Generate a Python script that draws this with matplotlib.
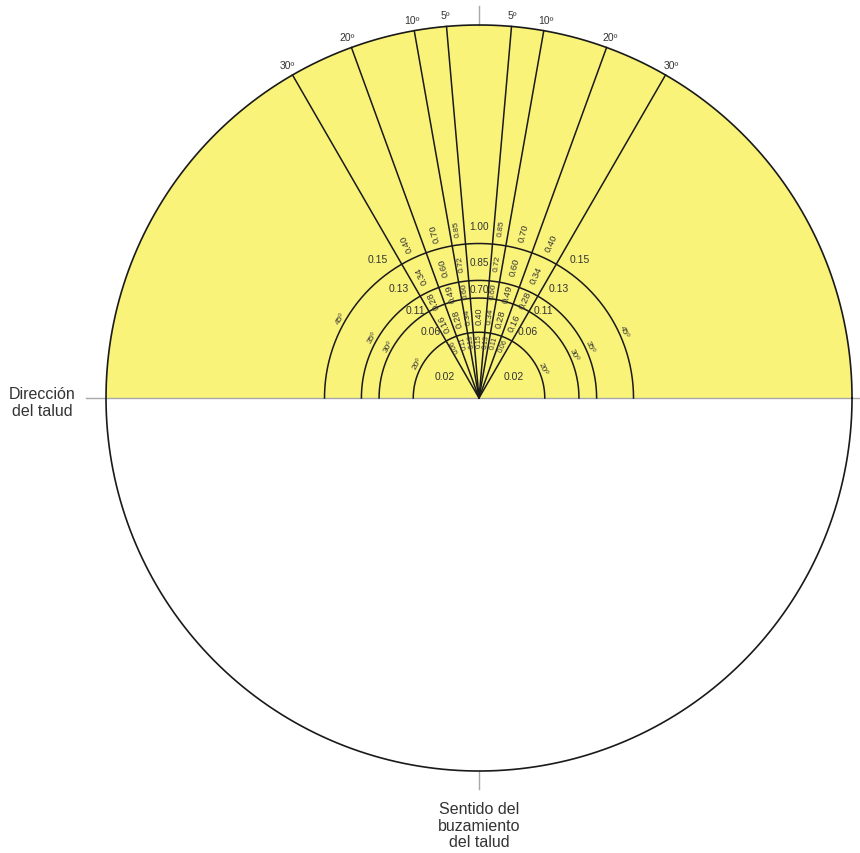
import numpy as np
import matplotlib.pyplot as plt

plt.rcParams['font.family'] = ['Liberation Sans', 'DejaVu Sans']

# sector boundaries, degrees either side of the dip direction
sector_edges = [5, 10, 20, 30]
# dip angles of the small circles (stereographic projection)
ring_dips = [20, 30, 35, 45]
ring_labels = ["20º", "30º", "35º", "45º"]

# factor per cell: rows inner -> outer (<20, 20-30, 30-35, 35-45, >45),
# columns centre -> side (0-5, 5-10, 10-20, 20-30, >30)
factor_lt20 = [0.15, 0.13, 0.11, 0.06, 0.02]
factor_20_30 = [0.40, 0.34, 0.28, 0.16, 0.06]
factor_30_35 = [0.70, 0.60, 0.49, 0.28, 0.11]
factor_35_45 = [0.85, 0.72, 0.60, 0.34, 0.13]
factor_gt45 = [1.00, 0.85, 0.70, 0.40, 0.15]
factors = [factor_lt20, factor_20_30, factor_30_35, factor_35_45, factor_gt45]

YELLOW = '#faf37a'
INK = '#1a1a1a'
TXT = '#333333'
GREY = '#a8a8a8'


def pol(a, r):
    # a: degrees from the vertical (positive to the right)
    t = np.radians(a)
    return r * np.sin(t), r * np.cos(t)


fig = plt.figure(figsize=(8.6, 8.54), dpi=100)
ax = fig.add_axes([0, 0, 1, 1])
ax.set_xlim(-1.2842, 1.0214)
ax.set_ylim(-1.2198, 1.0697)
ax.axis('off')

# upper half filled
th = np.linspace(0, np.pi, 300)
ax.fill(np.cos(th), np.sin(th), color=YELLOW, lw=0, zorder=1)

# horizontal and vertical reference lines
ax.plot([-1.054, 1.03], [0, 0], color=GREY, lw=1.0, zorder=2)
ax.plot([0, 0], [1.0, 1.051], color=GREY, lw=1.0, zorder=2)
ax.plot([0, 0], [-1.0, -1.048], color=GREY, lw=1.0, zorder=2)

# primitive circle
tt = np.linspace(0, 2 * np.pi, 600)
ax.plot(np.cos(tt), np.sin(tt), color=INK, lw=1.2, zorder=4)

# small circles
radii = [np.tan(np.radians(d / 2)) for d in ring_dips]
for r in radii:
    ax.plot(r * np.cos(th), r * np.sin(th), color=INK, lw=1.1, zorder=3)

# radial lines and their angle labels
for a in sector_edges:
    for s in (-1, 1):
        x, y = pol(s * a, 1.0)
        ax.plot([0, x], [0, y], color=INK, lw=1.1, zorder=3)
        lx, ly = pol(s * a, 1.03)
        ax.text(lx, ly, f"{a}º", ha='center', va='center',
                fontsize=7.5, color=TXT)

# small circle labels
for r, lab in zip(radii, ring_labels):
    for a in (-60, 65):
        x, y = pol(a, r + 0.013)
        ax.text(x, y, lab, ha='center', va='center', rotation=-a,
                fontsize=6, color=TXT)

# cell values
edges = [0] + radii + [1.0]
label_r = [0.155] + [(edges[i] + edges[i + 1]) / 2 for i in range(1, 4)] + [0.46]
col_angle = [0, 7.5, 15, 25, 36]
for i, row in enumerate(factors):
    for j, v in enumerate(row):
        txt = f"{v:.2f}"
        for s in ((1,) if j == 0 else (-1, 1)):
            a = s * col_angle[j]
            r = label_r[i]
            if j == 4:
                rot, fs = 0, 7.5
                if i == 0:
                    a, r = s * 57, 0.11
            elif j == 0:
                rot = 90 if i < 2 else 0
                fs = 7.2 if i >= 2 else (6.5 if i == 1 else 5.0)
            else:
                rot = 90 - a
                fs = 5.0 if i == 0 else (6.0 if j == 1 else 6.8)
            x, y = pol(a, r)
            ax.text(x, y, txt, ha='center', va='center', rotation=rot,
                    fontsize=fs, color=TXT, zorder=5)

ax.text(-1.17, -0.01, "Dirección\ndel talud", ha='center', va='center',
        fontsize=11.5, color=TXT, linespacing=1.15)
ax.text(0, -1.145, "Sentido del\nbuzamiento\ndel talud", ha='center',
        va='center', fontsize=11.5, color=TXT, linespacing=1.15)

fig.savefig('out.png', dpi=100, facecolor='white')
